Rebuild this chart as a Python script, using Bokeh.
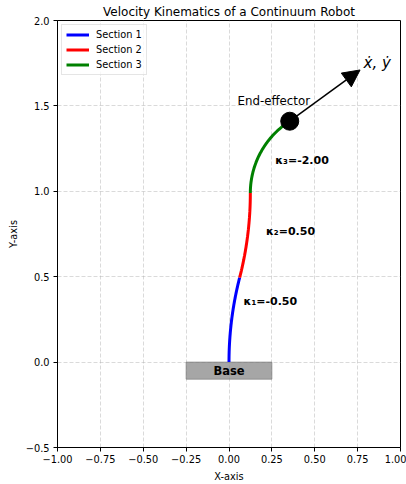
import numpy as np
from bokeh.plotting import figure
from bokeh.models import Range1d, FixedTicker, Label, Arrow, NormalHead
from bokeh.embed import file_html
from bokeh.resources import INLINE

# ---------------- data ----------------
section_names = ["Section 1", "Section 2", "Section 3"]
section_colors = ["#0000ff", "#ff0000", "#008000"]
curvatures = [-0.5, 0.5, -2.0]
section_lengths = [0.5, 0.5, 0.5]
kappa_labels = ["κ₁=-0.50", "κ₂=0.50", "κ₃=-2.00"]
kappa_label_x = [0.085, 0.216, 0.270]
kappa_label_y = [0.353, 0.766, 1.178]
velocity = [0.41, 0.30]
base_x = [-0.25, 0.25]
base_y = [-0.10, 0.0]
x_ticks = [-1.0, -0.75, -0.5, -0.25, 0.0, 0.25, 0.5, 0.75, 1.0]
x_tick_labels = ["−1.00", "−0.75", "−0.50", "−0.25", "0.00", "0.25", "0.50", "0.75", "1.00"]
y_ticks = [-0.5, 0.0, 0.5, 1.0, 1.5, 2.0]
y_tick_labels = ["−0.5", "0.0", "0.5", "1.0", "1.5", "2.0"]

FONT = "DejaVu Sans"

p = figure(width=406, height=484, output_backend="svg", toolbar_location=None,
           title="Velocity Kinematics of a Continuum Robot",
           x_range=Range1d(-1.0, 1.0), y_range=Range1d(-0.5, 2.0),
           min_border_left=57, min_border_right=6, min_border_top=19,
           min_border_bottom=37)
p.background_fill_color = "white"
p.border_fill_color = "white"
p.outline_line_color = "black"
p.outline_line_width = 1
p.outline_line_alpha = 1

p.title.text_font = FONT
p.title.text_font_size = "12px"
p.title.text_font_style = "normal"
p.title.text_color = "black"
p.title.align = "center"
p.title.standoff = 4

# axes
p.xaxis.ticker = FixedTicker(ticks=x_ticks)
p.yaxis.ticker = FixedTicker(ticks=y_ticks)
p.xaxis.major_label_overrides = dict(zip(x_ticks, x_tick_labels))
p.yaxis.major_label_overrides = dict(zip(y_ticks, y_tick_labels))
for ax in (p.xaxis, p.yaxis):
    ax.minor_tick_line_color = None
    ax.major_tick_in = 0
    ax.major_tick_out = 4
    ax.major_tick_line_color = "black"
    ax.axis_line_color = "black"
    ax.major_label_text_font = FONT
    ax.major_label_text_font_size = "9.8px"
    ax.major_label_text_color = "black"
    ax.axis_label_text_font = FONT
    ax.axis_label_text_font_size = "9.8px"
    ax.axis_label_text_font_style = "normal"
    ax.axis_label_text_color = "black"
p.xaxis.major_label_standoff = 3
p.yaxis.major_label_standoff = 4
p.xaxis.axis_label = "X-axis"
p.yaxis.axis_label = "Y-axis"
p.xaxis.axis_label_standoff = 5
p.yaxis.axis_label_standoff = 4

p.grid.grid_line_color = "#b0b0b0"
p.grid.grid_line_alpha = 0.6
p.grid.grid_line_dash = "4 2"
p.grid.grid_line_width = 0.8

# base
p.quad(left=[base_x[0]], right=[base_x[1]], bottom=[base_y[0]], top=[base_y[1]],
       fill_color="gray", fill_alpha=0.7, line_color="gray", line_alpha=0.7)
p.add_layout(Label(x=(base_x[0] + base_x[1]) / 2, y=(base_y[0] + base_y[1]) / 2,
                   text="Base", text_align="center", text_baseline="middle",
                   text_font=FONT, text_font_size="11.5px", text_font_style="bold",
                   text_color="black"))

# constant-curvature sections
x0, y0, th0 = 0.0, 0.0, np.pi / 2
for name, col, k, L, lab, lx, ly in zip(section_names, section_colors, curvatures,
                                         section_lengths, kappa_labels,
                                         kappa_label_x, kappa_label_y):
    s = np.linspace(0, L, 80)
    xs = x0 + (np.sin(th0 + k * s) - np.sin(th0)) / k
    ys = y0 - (np.cos(th0 + k * s) - np.cos(th0)) / k
    p.line(xs, ys, line_color=col, line_width=3, legend_label=name)
    p.add_layout(Label(x=lx, y=ly, text=lab, text_align="left", text_baseline="middle",
                       text_font=FONT, text_font_size="11px", text_font_style="bold",
                       text_color="black"))
    x0, y0, th0 = xs[-1], ys[-1], th0 + k * L

ex, ey = x0, y0
# velocity arrow
p.add_layout(Arrow(end=NormalHead(size=17, fill_color="black", line_color="black"),
                   x_start=ex, y_start=ey, x_end=ex + velocity[0], y_end=ey + velocity[1],
                   line_color="black", line_width=1.5))
p.scatter([ex], [ey], size=18, color="black")

p.add_layout(Label(x=ex + velocity[0] + 0.10, y=ey + velocity[1] + 0.04, text="ẋ, ẏ",
                   text_align="center", text_baseline="middle", text_font=FONT,
                   text_font_size="15px", text_font_style="italic", text_color="black"))
p.add_layout(Label(x=ex - 0.093, y=ey + 0.117, text="End-effector",
                   text_align="center", text_baseline="middle", text_font=FONT,
                   text_font_size="11.8px", text_color="black"))

# legend
lg = p.legend[0]
lg.location = "top_left"
lg.margin = 4
lg.padding = 4
lg.spacing = 4
lg.glyph_width = 23
lg.glyph_height = 11
lg.label_height = 11
lg.label_standoff = 7
lg.label_text_font = FONT
lg.label_text_font_size = "9.8px"
lg.label_text_color = "black"
lg.border_line_color = "#cccccc"
lg.border_line_width = 1
lg.background_fill_alpha = 0.8

open("out.html", "w").write(file_html(p, INLINE))
